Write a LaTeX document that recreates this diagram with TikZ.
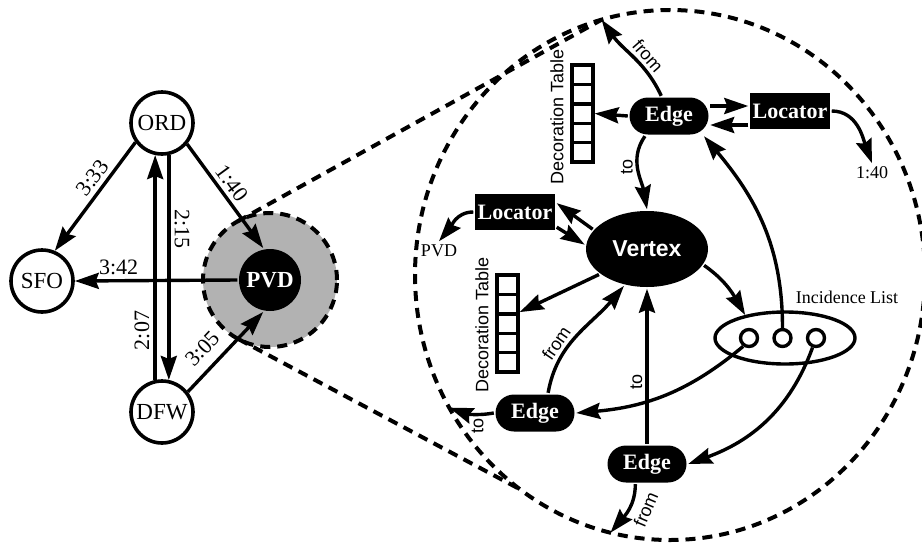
\documentclass[tikz,border=0pt]{standalone}
\usepackage{fontspec}
\setmainfont{Liberation Serif}
\setsansfont{Liberation Sans}
\usetikzlibrary{arrows.meta,shapes.geometric}

\begin{document}
\begin{tikzpicture}[x=0.5pt, y=-0.5pt, line width=1.7pt,
  >={Stealth[length=12pt,width=8pt,inset=1.5pt]},
  apt/.style={circle, draw, line width=1.8pt, minimum size=31pt, inner sep=0pt, font=\fontsize{11.5}{12}\selectfont},
  hub/.style={circle, fill=black, text=white, minimum size=31pt, inner sep=0pt, font=\fontsize{11.5}{12}\selectfont\bfseries},
  tm/.style={font=\fontsize{11}{12}\selectfont, inner sep=2pt},
  zoomline/.style={dash pattern=on 5pt off 3.5pt, line width=2pt},
  edgebox/.style={rectangle, rounded corners=9.25pt, fill=black, text=white, minimum width=39.5pt, minimum height=18.5pt, inner sep=0pt, font=\fontsize{11}{12}\selectfont\bfseries},
  locbox/.style={rectangle, fill=black, text=white, minimum width=40pt, minimum height=18pt, inner sep=0pt, font=\fontsize{11}{12}\selectfont\bfseries},
  cell/.style={rectangle, draw, minimum width=10.5pt, minimum height=9.7pt, inner sep=0pt},
  slot/.style={circle, draw, minimum size=8.5pt, inner sep=0pt},
  slabel/.style={font=\fontsize{9}{10}\selectfont, inner sep=1pt},
  sflabel/.style={font=\sffamily\fontsize{9}{10}\selectfont, inner sep=1.5pt}]
  \useasboundingbox (0,0) rectangle (922,542);

  \node[ellipse, draw, zoomline, minimum width=255pt, minimum height=265pt, inner sep=0pt, outer sep=0pt] (zoomc) at (670,275) {};
  \node[circle, draw, zoomline, fill=black!30, minimum size=67pt, inner sep=0pt, outer sep=0pt] (zoom) at (270,280) {};
  \draw[zoomline] (zoom.119) -- (zoomc.105);
  \draw[zoomline] (zoom.242) -- (zoomc.235);

  \node[apt] (ORD) at (162,123) {ORD};
  \node[apt] (SFO) at (42,281) {SFO};
  \node[apt] (DFW) at (162,412) {DFW};
  \node[hub] (PVD) at (270,280) {PVD};

  \draw[->] (ORD.216) -- (SFO.67) node[tm, sloped, above, pos=.4] {3:33};
  \draw[->] (ORD.-40) -- (PVD.102) node[tm, sloped, above, pos=.45] {1:40};
  \draw[->] (ORD.-78) -- (DFW.78) node[tm, rotate=-90, anchor=south, pos=.33] {2:15};
  \draw[->] (DFW.102) -- (ORD.-102) node[tm, rotate=90, anchor=south, pos=.22] {2:07};
  \draw[->] (PVD.west) -- (SFO.east) node[tm, above, pos=.73] {3:42};
  \draw[->] (DFW.38) -- (PVD.258) node[tm, sloped, above=3pt, pos=.38] {3:05};

  \node[ellipse, fill=black, text=white, minimum width=61pt, minimum height=38pt, inner sep=0pt, font=\sffamily\fontsize{11.5}{12}\selectfont\bfseries] (V) at (647,249) {Vertex};
  \node[edgebox] (eA) at (669,116) {Edge};
  \node[locbox] (lA) at (790,111) {Locator};
  \node[locbox] (lB) at (515,212) {Locator};
  \node[edgebox] (eB) at (535,413) {Edge};
  \node[edgebox] (eC) at (647,464) {Edge};
  \foreach \i in {1,...,5} {
    \node[cell] (dtA-\i) at (582.5,{55.3+19.4*\i}) {};
    \node[cell] (dtB-\i) at (507.5,{265.3+19.4*\i}) {};
  }
  \node[sflabel, rotate=90] (dtAl) at (557,117) {Decoration Table};
  \node[sflabel, rotate=90] (dtBl) at (482,325) {Decoration Table};
  \node[ellipse, draw, minimum width=70pt, minimum height=26pt, inner sep=0pt] (il) at (785,338) {};
  \foreach \i in {1,2,3} \node[slot] (c\i) at ({715.5+33.5*\i},338) {};
  \node[slabel] (ilt) at (847,297) {Incidence List};
  \node[slabel] (t140) at (872,173) {1:40};
  \node[slabel] (tpvd) at (439,251) {PVD};

  \draw[->] (eA.west) -- (dtA-3.east);
  \coordinate (eAr) at ([yshift=5pt]eA.east);
  \coordinate (lAl) at ([yshift=-7pt]lA.west);
  \draw[->] (eAr) -- (eAr -| lA.west);
  \draw[->] (lAl) -- (lAl -| eA.east);
  \draw[->] (lA.east) to[out=0, in=110] (t140.north);
  \draw[->] (eA.111) to[out=115, in=-55] node[sflabel, sloped, above, pos=.4] {from} (zoomc.105);
  \draw[->] (eA.-140) to[out=-125, in=100] node[sflabel, rotate=90, anchor=south, pos=.45] {to} (V.north);

  \draw[->] (V.160) -- (lB.12);
  \draw[->] (lB.-20) -- (V.176);
  \draw[->] (lB.west) to[out=180, in=50] (tpvd.north);
  \draw[->] (V.208) -- (dtB-3.north east);

  \draw[->] (eB.57) to[out=80, in=-130] node[sflabel, sloped, above, pos=.35] {from} (V.238);
  \draw[->] (eB.west) to[out=190, in=-20] node[sflabel, rotate=90, anchor=east, pos=.35] {to} (zoomc.211);
  \draw[->] (eC) -- (V) node[sflabel, rotate=90, anchor=south, pos=.4] {to};
  \draw[->] (eC.-120) to[out=-90, in=50] node[sflabel, sloped, below=2pt, pos=.35] {from} (zoomc.257);

  \draw[->] (V.-16) to[out=-35, in=120] (il.150);
  \draw[->] (c2.north) to[out=90, in=-50] (eA.-30);
  \draw[->] (c1.-125) to[out=-140, in=5] (eB.east);
  \draw[->] (c3.-110) to[out=-110, in=20] (eC.east);
\end{tikzpicture}
\end{document}
